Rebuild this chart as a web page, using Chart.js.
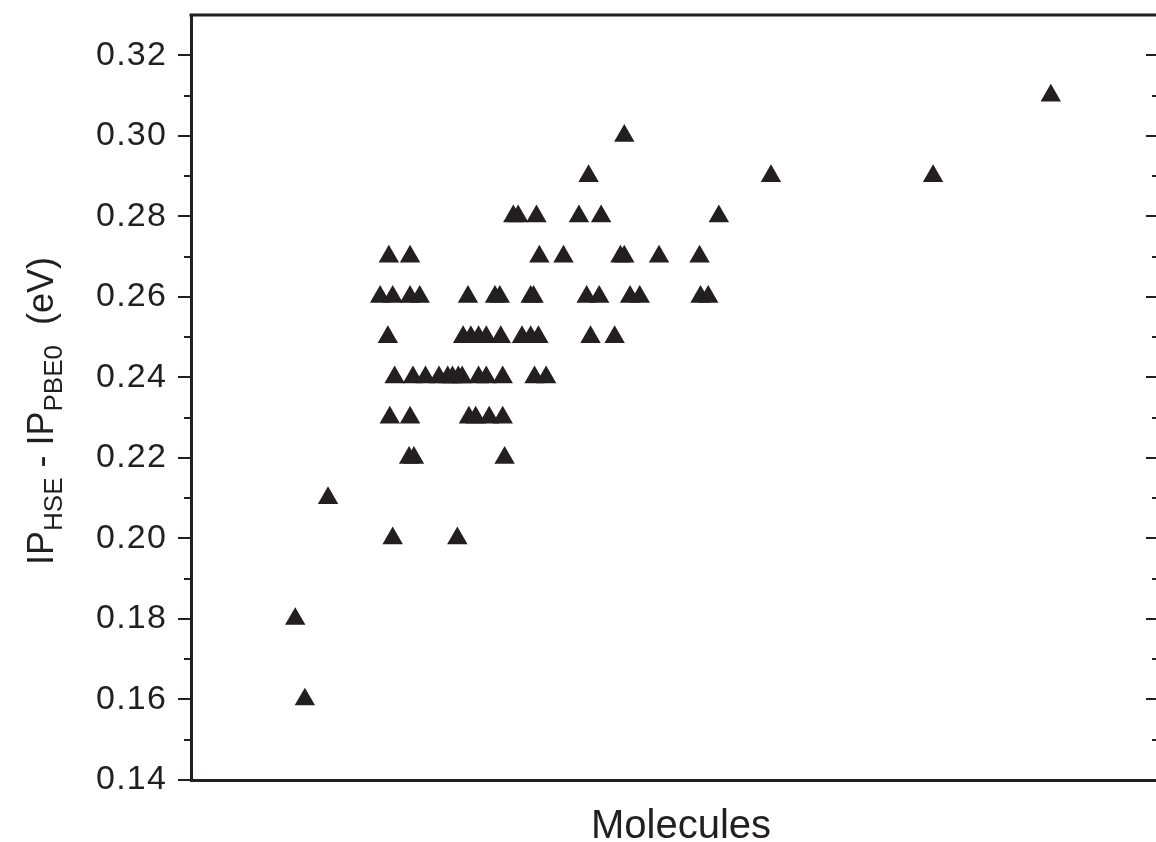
<!DOCTYPE html>
<html>
<head>
<meta charset="utf-8">
<script src="https://cdn.jsdelivr.net/npm/chart.js@4/dist/chart.umd.min.js"></script>
<style>
html,body{margin:0;padding:0;background:#ffffff;}
#wrap{width:1156px;height:842px;position:relative;}
</style>
</head>
<body>
<div id="wrap"><canvas id="c" width="1156" height="842"></canvas></div>
<script>
// ---- data ----
const yTickValues = [0.14, 0.16, 0.18, 0.20, 0.22, 0.24, 0.26, 0.28, 0.30, 0.32];
const xAxisTitle = 'Molecules';
const yAxisTitleParts = [
  {text: 'IP', sub: false},
  {text: 'HSE', sub: true},
  {text: ' - IP', sub: false},
  {text: 'PBE0', sub: true},
  {text: '  (eV)', sub: false}
];
// molecule position along the (unlabelled) x axis, arbitrary 0-100 units
const molX = [
  89.1,
  44.9,
  41.2, 60.1, 76.9,
  33.4, 33.9, 35.8, 40.2, 42.5, 54.7,
  20.5, 22.7, 36.1, 38.6, 44.5, 44.9, 48.5, 52.7,
  19.6, 20.9, 22.7, 23.7, 28.7, 31.5, 32.0, 35.2, 35.5, 41.0, 42.3, 45.5, 46.5, 52.8, 53.6,
  20.4, 28.2, 29.0, 29.8, 30.6, 32.1, 34.3, 35.2, 36.0, 41.4, 43.9,
  21.1, 23.0, 24.3, 25.7, 26.6, 27.1, 27.7, 28.1, 29.8, 30.6, 32.3, 35.6, 36.8,
  20.6, 22.7, 28.8, 29.5, 30.9, 32.3,
  22.6, 23.1, 32.5,
  14.2,
  20.9, 27.6,
  10.8,
  11.8
];
// IP(HSE) - IP(PBE0) in eV
const ipDiff = [
  0.31,
  0.30,
  0.29, 0.29, 0.29,
  0.28, 0.28, 0.28, 0.28, 0.28, 0.28,
  0.27, 0.27, 0.27, 0.27, 0.27, 0.27, 0.27, 0.27,
  0.26, 0.26, 0.26, 0.26, 0.26, 0.26, 0.26, 0.26, 0.26, 0.26, 0.26, 0.26, 0.26, 0.26, 0.26,
  0.25, 0.25, 0.25, 0.25, 0.25, 0.25, 0.25, 0.25, 0.25, 0.25, 0.25,
  0.24, 0.24, 0.24, 0.24, 0.24, 0.24, 0.24, 0.24, 0.24, 0.24, 0.24, 0.24, 0.24,
  0.23, 0.23, 0.23, 0.23, 0.23, 0.23,
  0.22, 0.22, 0.22,
  0.21,
  0.20, 0.20,
  0.18,
  0.16
];

const INK = '#231f20';
const FONT = '"Liberation Sans", Arial, Helvetica, sans-serif';

const points = molX.map((x, i) => ({x: x, y: ipDiff[i]}));

const framePlugin = {
  id: 'frame',
  beforeDraw(chart) {
    chart.ctx.letterSpacing = '1.2px';
  },
  afterDraw(chart) {
    const ctx = chart.ctx;
    const a = chart.chartArea;
    const ys = chart.scales.y;
    ctx.save();
    ctx.letterSpacing = '0px';
    ctx.strokeStyle = INK;
    ctx.lineCap = 'butt';
    // top border
    ctx.lineWidth = 3;
    ctx.beginPath();
    ctx.moveTo(a.left - 1.5, a.top);
    ctx.lineTo(a.right + 2, a.top);
    ctx.stroke();
    // ticks
    ctx.lineWidth = 2;
    for (let i = 0; i < yTickValues.length; i++) {
      const v = yTickValues[i];
      const py = Math.round(ys.getPixelForValue(v));
      // right major (inward)
      ctx.beginPath();
      ctx.moveTo(a.right - 10, py);
      ctx.lineTo(a.right, py);
      ctx.stroke();
      if (i < yTickValues.length - 1) {
        const m = Math.round(ys.getPixelForValue(v + 0.01));
        // left minor (outward)
        ctx.beginPath();
        ctx.moveTo(a.left - 7, m);
        ctx.lineTo(a.left, m);
        ctx.stroke();
        // right minor (inward)
        ctx.beginPath();
        ctx.moveTo(a.right - 4, m);
        ctx.lineTo(a.right, m);
        ctx.stroke();
      }
    }
    // x title
    ctx.fillStyle = INK;
    ctx.font = '40px ' + FONT;
    ctx.textAlign = 'center';
    ctx.textBaseline = 'alphabetic';
    ctx.fillText(xAxisTitle, 681, 838);
    // y title with subscripts (rotated)
    const mainSize = 36, subSize = 26;
    let total = 0;
    yAxisTitleParts.forEach(p => {
      ctx.font = (p.sub ? subSize : mainSize) + 'px ' + FONT;
      p.w = ctx.measureText(p.text).width;
      total += p.w;
    });
    ctx.translate(53, 411);
    ctx.rotate(-Math.PI / 2);
    ctx.textAlign = 'left';
    let cx = -total / 2;
    yAxisTitleParts.forEach(p => {
      ctx.font = (p.sub ? subSize : mainSize) + 'px ' + FONT;
      ctx.fillText(p.text, cx, p.sub ? 9 : 0);
      cx += p.w;
    });
    ctx.restore();
  }
};

new Chart(document.getElementById('c'), {
  type: 'scatter',
  data: {
    datasets: [{
      data: points,
      pointStyle: 'triangle',
      pointRadius: 11.8,
      pointHoverRadius: 11.8,
      backgroundColor: INK,
      borderColor: INK,
      borderWidth: 0,
      clip: false
    }]
  },
  options: {
    responsive: false,
    animation: false,
    events: [],
    layout: {autoPadding: false, padding: {left: 0, right: 0, top: 15, bottom: 62}},
    plugins: {legend: {display: false}, tooltip: {enabled: false}, title: {display: false}},
    scales: {
      x: {
        type: 'linear',
        min: 0,
        max: 100,
        ticks: {display: false},
        grid: {display: false, drawTicks: false},
        border: {display: true, color: INK, width: 3},
        afterFit(s) { s.height = 0; s.paddingLeft = 0; s.paddingRight = 0; }
      },
      y: {
        type: 'linear',
        min: 0.14,
        max: 0.33,
        afterBuildTicks(s) { s.ticks = yTickValues.map(v => ({value: v})); },
        ticks: {
          color: INK,
          font: {family: FONT, size: 34},
          padding: 11,
          callback: v => Number(v).toFixed(2)
        },
        grid: {display: true, drawOnChartArea: false, drawTicks: true, tickLength: 13, color: INK, lineWidth: 2},
        border: {display: true, color: INK, width: 3},
        afterFit(s) { s.width = 191; s.paddingTop = 0; s.paddingBottom = 0; }
      }
    }
  },
  plugins: [framePlugin]
});
</script>
</body>
</html>
